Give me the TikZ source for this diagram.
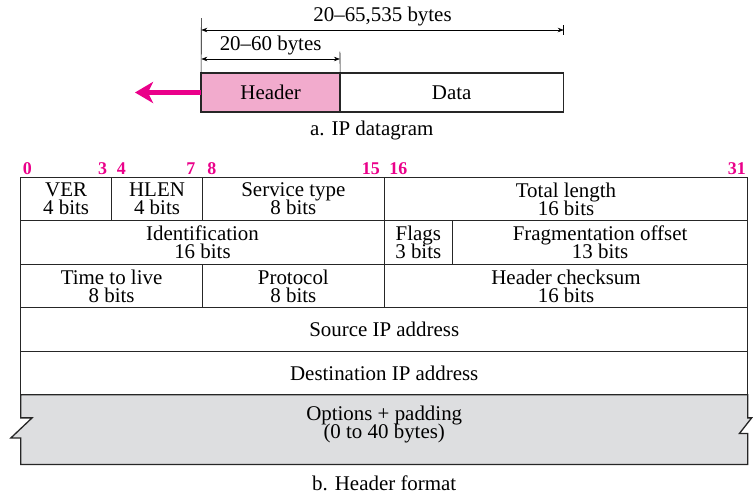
\documentclass[tikz,border=0pt]{standalone}
\usepackage{fontspec}
\setmainfont{Liberation Serif}
\usetikzlibrary{arrows.meta}
\definecolor{ipmagenta}{RGB}{234,0,138}
\definecolor{ippink}{RGB}{242,171,205}
\definecolor{ipgray}{RGB}{221,222,224}
\newcommand{\bitw}{22.72bp}
\newcommand{\rowh}{43.5bp}
\newcommand{\iptightfont}{\fontsize{21}{18}\selectfont\lineskiplimit=-50pt\relax}
\tikzset{
  ipfield/.style={draw=black!85,line width=1.3bp,inner sep=0pt,outer sep=0pt,
    align=center,minimum width=#1*\bitw,minimum height=\rowh},
  ipbox/.style={draw=black!85,line width=1.3bp,inner sep=0pt,outer sep=0pt,
    minimum height=39bp},
  ipdim/.style={{Stealth[length=6bp,width=4.5bp]}-{Stealth[length=6bp,width=4.5bp]},
    line width=0.6bp},
  ipext/.style={line width=0.6bp},
  ipbit/.style={font=\fontsize{18}{18}\selectfont\bfseries,text=ipmagenta,inner sep=0pt},
  every picture/.style={font=\iptightfont}
}

\begin{document}
\begin{tikzpicture}[x=\bitw,y=\rowh]
  \useasboundingbox (-0.911,-7.28) rectangle (32.23,4.076);
  % a. IP datagram
  \node[ipbox,fill=ippink,minimum width=139bp] (hdr) at (11,1.95) {Header};
  \node[ipbox,minimum width=223bp,anchor=west] (data) at (hdr.east) {Data};
  \coordinate (tip) at (5.03,1.95);
  \draw[-{Stealth[length=18bp,width=21bp,inset=5bp]},ipmagenta,line width=5bp] (hdr.west) -- (tip);
  \coordinate (extL) at (7.95,3.66);
  \coordinate (extM) at (14.05,2.89);
  \coordinate (extRa) at (23.9,3.50);
  \coordinate (extRb) at (23.9,3.27);
  \draw[ipext] (hdr.north west) -- (extL);
  \draw[ipext] (hdr.north east) -- (extM);
  \draw[ipext] (extRa) -- (extRb);
  \coordinate (lenL) at (7.95,3.386);
  \coordinate (lenR) at (23.9,3.386);
  \coordinate (hlL) at (7.95,2.72);
  \coordinate (hlR) at (14.05,2.72);
  \draw[ipdim] (lenL) -- node[above] (totlbl) {20--65,535 bytes} (lenR);
  \draw[ipdim] (hlL) -- node[above] (hdrlbl) {20--60 bytes} (hlR);
  \node (capa) at (15.45,1.087) {a. IP datagram};
  % bit numbers
  \node[ipbit,anchor=base west] (b0) at (0.09,0.06) {0};
  \node[ipbit,anchor=base east] (b3) at (3.81,0.06) {3};
  \node[ipbit,anchor=base west] (b4) at (4.22,0.06) {4};
  \node[ipbit,anchor=base east] (b7) at (7.7,0.06) {7};
  \node[ipbit,anchor=base west] (b8) at (8.21,0.06) {8};
  \node[ipbit,anchor=base east] (b15) at (15.81,0.06) {15};
  \node[ipbit,anchor=base west] (b16) at (16.22,0.06) {16};
  \node[ipbit,anchor=base east] (b31) at (31.92,0.06) {31};
  % b. header format
  \node[ipfield=4] (ver) at (2,-0.5) {VER\\4 bits};
  \node[ipfield=4] (hlen) at (6,-0.5) {HLEN\\4 bits};
  \node[ipfield=8] (tos) at (12,-0.5) {Service type\\8 bits};
  \node[ipfield=16] (totlen) at (24,-0.5) {Total length\\16 bits};
  \node[ipfield=16] (ident) at (8,-1.5) {Identification\\16 bits};
  \node[ipfield=3] (flags) at (17.5,-1.5) {Flags\\3 bits};
  \node[ipfield=13] (fragoff) at (25.5,-1.5) {Fragmentation offset\\13 bits};
  \node[ipfield=8] (ttl) at (4,-2.5) {Time to live\\8 bits};
  \node[ipfield=8] (proto) at (12,-2.5) {Protocol\\8 bits};
  \node[ipfield=16] (cksum) at (24,-2.5) {Header checksum\\16 bits};
  \node[ipfield=32] (srcip) at (16,-3.5) {Source IP address};
  \filldraw[fill=ipgray,draw=black!85,line width=1.3bp] (0,-5) -- (32,-5) -- (32,-5.53)
    -- (32.17,-5.53) -- (31.63,-5.89) -- (32,-5.89) -- (32,-6.6) -- (0,-6.6)
    -- (0,-5.99) -- (-0.43,-5.99) -- (0.5,-5.53) -- (0,-5.53) -- cycle;
  \node[ipfield=32] (dstip) at (16,-4.5) {Destination IP address};
  \node[align=center] (opts) at (16,-5.69) {Options + padding\\(0 to 40 bytes)};
  \node (capb) at (16,-7.03) {b. Header format};
\end{tikzpicture}
\end{document}
